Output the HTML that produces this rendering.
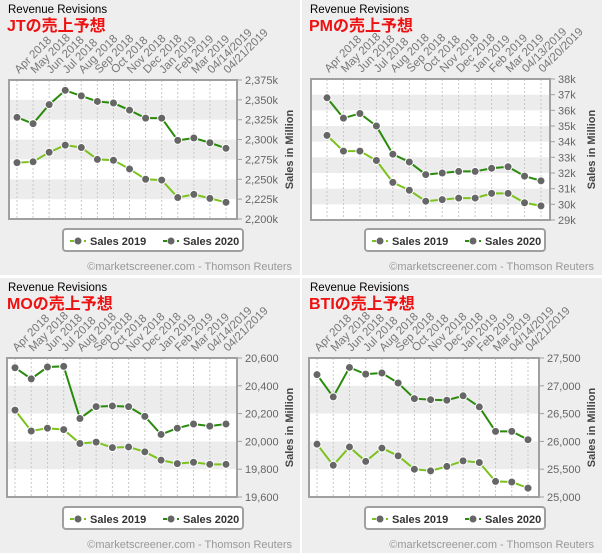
<!DOCTYPE html>
<html><head><meta charset="utf-8"><style>
body{margin:0;width:605px;height:553px;background:#fff;overflow:hidden;font-family:"Liberation Sans","Noto Sans CJK JP",sans-serif}
svg{display:block}
</style></head><body>
<svg id="c" width="605" height="553"></svg>
<script>
const jtCats=["Apr 2018","May 2018","Jun 2018","Jul 2018","Aug 2018","Sep 2018","Oct 2018","Nov 2018","Dec 2018","Jan 2019","Feb 2019","Mar 2019","04/14/2019","04/21/2019"];
const pmCats=["Apr 2018","May 2018","Jun 2018","Jul 2018","Aug 2018","Sep 2018","Oct 2018","Nov 2018","Dec 2018","Jan 2019","Feb 2019","Mar 2019","04/13/2019","04/20/2019"];
const jt2019=[2271,2272,2284,2293,2290,2275,2274,2263,2250,2249,2227,2231,2226,2221];
const jt2020=[2328,2320,2344,2362,2355,2348,2346,2337,2327,2327,2299,2302,2296,2289];
const jtTicks=[2200,2225,2250,2275,2300,2325,2350,2375];
const pm2019=[34.4,33.4,33.4,32.8,31.4,30.9,30.2,30.3,30.4,30.4,30.7,30.7,30.1,29.9];
const pm2020=[36.8,35.5,35.8,35.0,33.2,32.7,31.9,32.0,32.1,32.1,32.3,32.4,31.8,31.5];
const pmTicks=[29,30,31,32,33,34,35,36,37,38];
const mo2019=[20225,20075,20095,20085,19985,19995,19955,19960,19925,19865,19840,19850,19835,19835];
const mo2020=[20530,20450,20535,20540,20165,20250,20255,20250,20180,20050,20095,20125,20110,20125];
const moTicks=[19600,19800,20000,20200,20400,20600];
const bti2019=[25950,25570,25900,25640,25880,25740,25500,25470,25550,25650,25620,25280,25270,25160];
const bti2020=[27200,26800,27330,27210,27230,27050,26770,26750,26740,26820,26620,26180,26180,26030];
const btiTicks=[25000,25500,26000,26500,27000,27500];

const NS="http://www.w3.org/2000/svg";
const root=document.getElementById('c');
function mk(p,t,a,txt){const e=document.createElementNS(NS,t);for(const k in a)e.setAttribute(k,a[k]);if(txt!==undefined)e.textContent=txt;p.appendChild(e);return e;}
function fmt(v,kind){if(kind==='k')return v.toLocaleString('en-US')+'k';if(kind==='pk')return v+'k';return v.toLocaleString('en-US');}

const panels=[
 {id:'jt',ox:0,oy:0,title:'JTの売上予想',cats:jtCats,s19:jt2019,s20:jt2020,ticks:jtTicks,kind:'k',pl:9,pr:237,x0:17,x1:226,yt:80,yb:219},
 {id:'pm',ox:302,oy:0,title:'PMの売上予想',cats:pmCats,s19:pm2019,s20:pm2020,ticks:pmTicks,kind:'pk',pl:9,pr:248,x0:25,x1:239,yt:79,yb:220},
 {id:'mo',ox:0,oy:278,title:'MOの売上予想',cats:jtCats,s19:mo2019,s20:mo2020,ticks:moTicks,kind:'n',pl:7,pr:237,x0:15,x1:226,yt:80,yb:219},
 {id:'bti',ox:302,oy:278,title:'BTIの売上予想',cats:jtCats,s19:bti2019,s20:bti2020,ticks:btiTicks,kind:'n',pl:7,pr:237,x0:15,x1:226,yt:80,yb:219}
];
panels.forEach(P=>{
 const g=mk(root,'g',{transform:`translate(${P.ox},${P.oy})`});
 
 
 mk(g,'rect',{x:0,y:0,width:300,height:275,fill:'#eeeeee'});
 const t1=mk(g,'text',{x:8,y:13,'font-size':'11.5',fill:'#000'},'Revenue Revisions');
 
 const t2=mk(g,'text',{x:7,y:31,'font-size':'16','font-weight':'bold',fill:'#ee1111'},P.title);
 
 const lo=P.ticks[0],hi=P.ticks[P.ticks.length-1],n=P.cats.length;
 const X=i=>P.x0+(P.x1-P.x0)*i/(n-1);
 const Y=v=>P.yb-(v-lo)/(hi-lo)*(P.yb-P.yt);
 mk(g,'rect',{x:P.pl,y:P.yt,width:P.pr-P.pl,height:P.yb-P.yt,fill:'#fff'});
 for(let i=0;i<P.ticks.length-1;i++){
   const idx=P.ticks.length-2-i;
   if(i%2===1){mk(g,'rect',{x:P.pl,y:Y(P.ticks[idx+1]),width:P.pr-P.pl,height:Y(P.ticks[idx])-Y(P.ticks[idx+1]),fill:'#ececec'});}
 }
 P.cats.forEach((c,i)=>{
   const x=X(i);
   mk(g,'line',{x1:x,y1:P.yt,x2:x,y2:P.yb,stroke:'#c8c8c8','stroke-dasharray':'2,2'});
   const lb=mk(g,'text',{x:x+2,y:P.yt-6,'font-size':'11.5',fill:'#777','text-anchor':'start',transform:`rotate(-45 ${x+2} ${P.yt-6})`},c);
   
 });
 mk(g,'rect',{x:P.pl,y:P.yt,width:P.pr-P.pl,height:P.yb-P.yt,fill:'none',stroke:'#a0a0a0','stroke-width':2});
 P.ticks.forEach(v=>{
   const y=Y(v);
   mk(g,'line',{x1:P.pr,y1:y,x2:P.pr+5,y2:y,stroke:'#a0a0a0'});
   const tl=mk(g,'text',{x:P.pr+8,y:y+4,'font-size':'11',fill:'#666'},fmt(v,P.kind));
   
 });
 const at=mk(g,'text',{x:0,y:0,'font-size':'11','font-weight':'bold',fill:'#444','text-anchor':'middle',transform:`translate(293,${(P.yt+P.yb)/2}) rotate(-90)`},'Sales in Million');
 
 [[P.s19,'#7cc21e','sales-2019'],[P.s20,'#2a8a0c','sales-2020']].forEach(([s,col,nm])=>{
   const sg=mk(g,'g',{});
   
   mk(sg,'polyline',{points:s.map((v,i)=>X(i)+','+Y(v)).join(' '),fill:'none',stroke:col,'stroke-width':2});
   s.forEach((v,i)=>{const p=mk(sg,'circle',{cx:X(i),cy:Y(v),r:4,fill:'#666',stroke:'#fff','stroke-width':1});
     });
 });
 const lg=mk(g,'g',{});
 
 mk(lg,'rect',{x:63,y:229,width:180,height:22,rx:3,fill:'#fff',stroke:'#a0a0a0','stroke-width':2});
 [[70,'#7cc21e','Sales 2019'],[163,'#2a8a0c','Sales 2020']].forEach(([lx,col,txt])=>{
   const e=mk(lg,'g',{});
   
   mk(e,'line',{x1:lx,y1:241,x2:lx+16,y2:241,stroke:col,'stroke-width':2,'stroke-dasharray':'4,3'});
   mk(e,'circle',{cx:lx+8,cy:241,r:3.5,fill:'#666'});
   mk(e,'text',{x:lx+20,y:245,'font-size':'11','font-weight':'bold',fill:'#333'},txt);
 });
 const ft=mk(g,'text',{x:292,y:270,'font-size':'11',fill:'#999','text-anchor':'end'},'©marketscreener.com - Thomson Reuters');
 
});
</script>
</body></html>
